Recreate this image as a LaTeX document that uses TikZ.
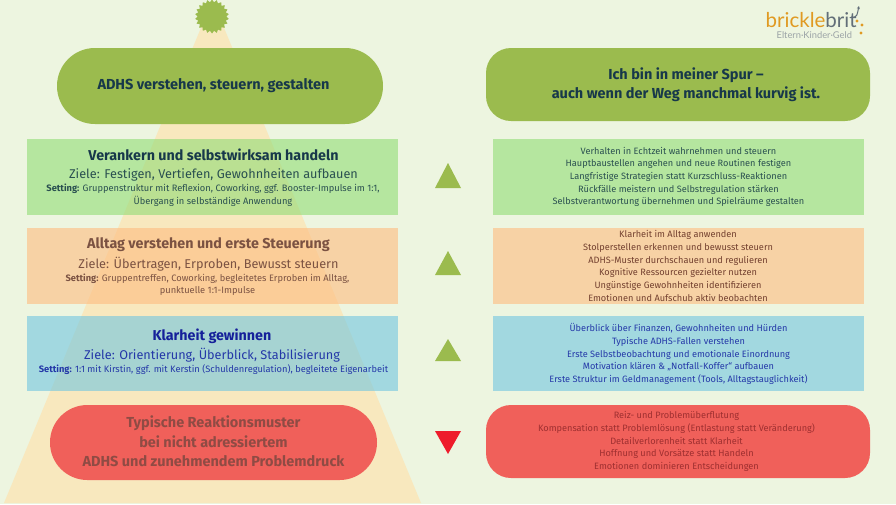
\documentclass[tikz,border=0pt]{standalone}
\usepackage{fontspec}
\setmainfont{Fira Sans}
\newfontfamily\logofont{Lato}
\usetikzlibrary{shapes.geometric,arrows.meta}
\definecolor{bgc}{HTML}{EDF5E0}
\definecolor{pyr}{HTML}{F8E8BE}
\definecolor{leaf}{HTML}{9BBB4E}
\definecolor{gbox}{HTML}{91DC75}
\definecolor{obox}{HTML}{FEBC7F}
\definecolor{bbox}{HTML}{70C6E0}
\definecolor{rpill}{HTML}{F0605A}
\definecolor{ink}{HTML}{17384A}
\definecolor{inkg}{HTML}{2A5050}
\definecolor{inko}{HTML}{7B5242}
\definecolor{inkoo}{HTML}{73402F}
\definecolor{inkb}{HTML}{15209A}
\definecolor{inkbb}{HTML}{2438A8}
\definecolor{inkr}{HTML}{8F4B44}
\definecolor{inkrr}{HTML}{9E2F30}
\definecolor{tred}{HTML}{EE1C2B}
\definecolor{logoo}{HTML}{E09A22}
\definecolor{logog}{HTML}{626E78}
\definecolor{logol}{HTML}{9BA3A6}
\tikzset{
  x=1pt,y=-1pt,
  pill/.style={fill=leaf,draw=none,inner sep=0},
  band/.style={draw=none,fill opacity=.6,inner sep=0},
  head/.style={inner sep=0,align=center,font=\fontsize{14.5}{19.5}\selectfont\bfseries},
  sect/.style={inner sep=0,align=center,font=\fontsize{14.3}{14}\selectfont\bfseries},
  goal/.style={inner sep=0,align=center,font=\fontsize{12.7}{14}\selectfont},
  sett/.style={inner sep=0,align=center,font=\fontsize{9.3}{12.5}\selectfont},
  list/.style={inner sep=0,align=center,font=\fontsize{9.2}{12.67}\selectfont},
  updown/.style={fill=leaf,draw=none},
}
\begin{document}
\begin{tikzpicture}
\useasboundingbox (0,0) rectangle (896,504);
\fill[bgc] (0,0) rectangle (896,504);
\fill[pyr] (212.5,0) -- (421,503) -- (4,503) -- cycle;
\node[star,star points=22,star point ratio=1.18,fill=leaf,inner sep=0,minimum size=34pt] (sun) at (212,16.5) {};
% left column
\fill[pill,rounded corners=37.9pt] (57,48) rectangle (383,124);
\node[head,text=ink] (t0) at (213.5,86) {ADHS verstehen, steuern, gestalten};
\fill[band,fill=gbox] (27,139) rectangle (398,215);
\node[sect,text=ink] (t1) at (213.5,155) {Verankern und selbstwirksam handeln};
\node[goal,text=inkg] (g1) at (213.5,174.5) {Ziele: Festigen, Vertiefen, Gewohnheiten aufbauen};
\node[sett,text=inkg] (s1) at (213,195) {\textbf{Setting:} Gruppenstruktur mit Reflexion, Coworking, ggf. Booster-Impulse im 1:1,\\Übergang in selbständige Anwendung};
\fill[band,fill=obox] (27,228) rectangle (398,304);
\node[sect,text=inko] (t2) at (208.5,245) {Alltag verstehen und erste Steuerung};
\node[goal,text=inko] (g2) at (208.5,264) {Ziele: Übertragen, Erproben, Bewusst steuern};
\node[sett,text=inko] (s2) at (207.5,284.5) {\textbf{Setting:} Gruppentreffen, Coworking, begleitetes Erproben im Alltag,\\punktuelle 1:1-Impulse};
\fill[band,fill=bbox] (27,316) rectangle (398,391);
\node[sect,text=inkb] (t3) at (212,336) {Klarheit gewinnen};
\node[goal,text=inkbb] (g3) at (212,355) {Ziele: Orientierung, Überblick, Stabilisierung};
\node[sett,text=inkbb] (s3) at (213.5,369.5) {\textbf{Setting:} 1:1 mit Kirstin, ggf. mit Kerstin (Schuldenregulation), begleitete Eigenarbeit};
\fill[fill=rpill,rounded corners=37.4pt] (50,405) rectangle (377,480);
\node[head,text=inkr] (t4) at (213.5,441.5) {Typische Reaktionsmuster\\bei nicht adressiertem\\ADHS und zunehmendem Problemdruck};
% triangles
\fill[updown] (448,163) -- (461,188) -- (435,188) -- cycle;
\fill[updown] (448,251) -- (461,275) -- (435,275) -- cycle;
\fill[updown] (448,339) -- (461,361) -- (435,361) -- cycle;
\fill[tred] (435,431) -- (461,431) -- (448,454) -- cycle;
% right column
\fill[pill,rounded corners=25pt] (486,48) rectangle (870,121);
\node[head,text=ink] (r0) at (686,84.5) {Ich bin in meiner Spur –\\auch wenn der Weg manchmal kurvig ist.};
\fill[band,fill=gbox] (493,139) rectangle (864,215);
\node[list,text=inkg] (r1) at (678.5,177) {Verhalten in Echtzeit wahrnehmen und steuern\\Hauptbaustellen angehen und neue Routinen festigen\\Langfristige Strategien statt Kurzschluss-Reaktionen\\Rückfälle meistern und Selbstregulation stärken\\Selbstverantwortung übernehmen und Spielräume gestalten};
\fill[band,fill=obox] (493,228) rectangle (864,304);
\node[list,text=inkoo] (r2) at (678,266) {Klarheit im Alltag anwenden\\Stolperstellen erkennen und bewusst steuern\\ADHS-Muster durchschauen und regulieren\\Kognitive Ressourcen gezielter nutzen\\Ungünstige Gewohnheiten identifizieren\\Emotionen und Aufschub aktiv beobachten};
\fill[band,fill=bbox] (493,316) rectangle (864,391);
\node[list,text=inkbb] (r3) at (678.5,354) {Überblick über Finanzen, Gewohnheiten und Hürden\\Typische ADHS-Fallen verstehen\\Erste Selbstbeobachtung und emotionale Einordnung\\Motivation klären \& „Notfall-Koffer“ aufbauen\\Erste Struktur im Geldmanagement (Tools, Alltagstauglichkeit)};
\fill[fill=rpill,rounded corners=25pt] (486,405) rectangle (870,478);
\node[list,text=inkrr] (r4) at (676.5,441.5) {Reiz- und Problemüberflutung\\Kompensation statt Problemlösung (Entlastung statt Veränderung)\\Detailverlorenheit statt Klarheit\\Hoffnung und Vorsätze statt Handeln\\Emotionen dominieren Entscheidungen};
% logo
\node[inner sep=0,font=\logofont\fontsize{20.5}{20}\selectfont,anchor=base west] (lg) at (765.5,27) {\textcolor{logoo}{brickle}\textcolor{logog}{brit}};
\node[inner sep=0,font=\logofont\fontsize{9.3}{10}\selectfont,text=logol,anchor=base west] (lt) at (776.5,38.5) {Eltern·Kinder·Geld};
\draw[logog,line width=1pt,-{Stealth[length=3pt,width=3pt]}] (851,17) .. controls (858,18) and (857,14) .. (859,6);
\fill[logoo] (857,21) circle (1.6) (862,25) circle (1.6) (861,33) circle (1.6);
\end{tikzpicture}
\end{document}
